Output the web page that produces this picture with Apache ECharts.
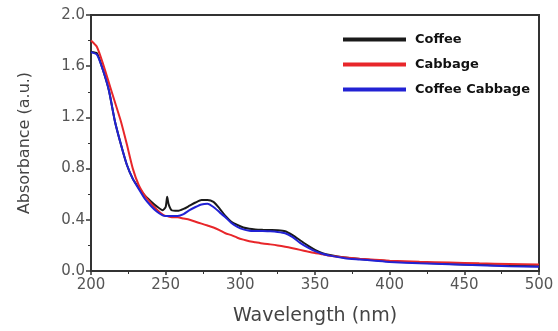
<!DOCTYPE html>
<html>
<head>
<meta charset="utf-8">
<script src="https://cdn.jsdelivr.net/npm/echarts@6/dist/echarts.min.js"></script>
<style>
    html, body { margin: 0; padding: 0; background: #fff; }
    #uvChart { width: 558px; height: 331px; }
</style>
</head>
<body>
<div id="uvChart"></div>
<script>
    var wavelengths = [200, 204, 208, 212, 216, 220, 224, 228, 232, 236, 240, 244, 248, 250, 251, 252, 254, 258, 262, 266,
        270, 274, 278, 282, 286, 290, 294, 298, 302, 306, 310, 315, 320, 325, 330, 335, 340, 345, 350, 355,
        360, 370, 380, 390, 400, 420, 440, 460, 480, 500];

    var coffee = [1.71, 1.70, 1.57, 1.41, 1.17, 0.99, 0.83, 0.72, 0.65, 0.59, 0.545, 0.505, 0.475, 0.50, 0.58, 0.52, 0.475, 0.47, 0.485, 0.51,
        0.535, 0.555, 0.555, 0.54, 0.49, 0.43, 0.385, 0.36, 0.34, 0.33, 0.325, 0.322, 0.32, 0.318, 0.31, 0.28, 0.24, 0.20, 0.165, 0.14,
        0.125, 0.105, 0.093, 0.085, 0.075, 0.065, 0.055, 0.048, 0.042, 0.037];

    var cabbage = [1.80, 1.75, 1.62, 1.47, 1.32, 1.17, 0.99, 0.80, 0.67, 0.59, 0.53, 0.48, 0.44, 0.43, 0.43, 0.425, 0.42, 0.42, 0.41, 0.40,
        0.385, 0.37, 0.355, 0.34, 0.32, 0.295, 0.28, 0.26, 0.245, 0.233, 0.225, 0.215, 0.208, 0.20, 0.19, 0.178, 0.165, 0.152, 0.14, 0.13,
        0.12, 0.105, 0.095, 0.088, 0.08, 0.072, 0.066, 0.06, 0.055, 0.05];

    var coffeeCabbage = [1.71, 1.69, 1.57, 1.41, 1.17, 0.99, 0.83, 0.72, 0.64, 0.565, 0.51, 0.465, 0.435, 0.43, 0.43, 0.43, 0.43, 0.43, 0.445, 0.475,
        0.50, 0.52, 0.525, 0.50, 0.46, 0.42, 0.375, 0.345, 0.325, 0.315, 0.313, 0.312, 0.31, 0.305, 0.295, 0.265, 0.22, 0.185, 0.155, 0.135,
        0.12, 0.10, 0.09, 0.08, 0.07, 0.06, 0.052, 0.045, 0.038, 0.033];

    var seriesNames = ["Coffee", "Cabbage", "Coffee Cabbage"];
    var seriesColors = ["#1a1a1a", "#e8262a", "#2222d4"];

    function pairs(values) {
        return wavelengths.map(function (w, i) { return [w, values[i]]; });
    }

    var myChart = echarts.init(document.getElementById('uvChart'));

    var axisText = { color: "#555", fontFamily: "DejaVu Sans", fontSize: 15 };

    var uvOption = {
        animation: false,
        backgroundColor: "#fff",
        grid: {
            left: 91, right: 19, top: 15, bottom: 56,
            show: true, borderColor: "#333", borderWidth: 2, backgroundColor: "transparent"
        },
        legend: {
            orient: "vertical",
            left: 343,
            top: 33,
            padding: 0,
            icon: "rect",
            itemWidth: 63,
            itemHeight: 4,
            itemGap: 12,
            data: seriesNames,
            textStyle: { color: "#111", fontFamily: "DejaVu Sans", fontWeight: "bold", fontSize: 13, padding: [0, 0, 0, 4] }
        },
        xAxis: {
            type: "value",
            min: 200, max: 500, interval: 50,
            name: "Wavelength (nm)",
            nameLocation: "middle",
            nameGap: 36,
            nameTextStyle: { color: "#444", fontFamily: "DejaVu Sans", fontSize: 19 },
            axisLine: { lineStyle: { color: "#333", width: 2 } },
            axisTick: { length: 4, lineStyle: { color: "#333", width: 1.5 } },
            minorTick: { show: true, splitNumber: 2, length: 3, lineStyle: { color: "#333" } },
            axisLabel: Object.assign({ margin: 7 }, axisText),
            splitLine: { show: false }
        },
        yAxis: {
            type: "value",
            min: 0, max: 2, interval: 0.4,
            name: "Absorbance (a.u.)",
            nameLocation: "middle",
            nameGap: 58,
            nameTextStyle: { color: "#444", fontFamily: "DejaVu Sans", fontSize: 16 },
            axisLine: { show: true, lineStyle: { color: "#333", width: 2 } },
            axisTick: { show: true, length: 5, lineStyle: { color: "#333", width: 1.5 } },
            minorTick: { show: true, splitNumber: 2, length: 3, lineStyle: { color: "#333" } },
            axisLabel: Object.assign({ margin: 6, formatter: function (v) { return v.toFixed(1); } }, axisText),
            splitLine: { show: false }
        },
        series: [coffee, cabbage, coffeeCabbage].map(function (vals, i) {
            return {
                name: seriesNames[i],
                type: "line",
                data: pairs(vals),
                symbol: "none",
                smooth: 0.2,
                color: seriesColors[i],
                lineStyle: { width: 2, color: seriesColors[i] }
            };
        })
    };

    myChart.setOption(uvOption);
</script>
</body>
</html>
